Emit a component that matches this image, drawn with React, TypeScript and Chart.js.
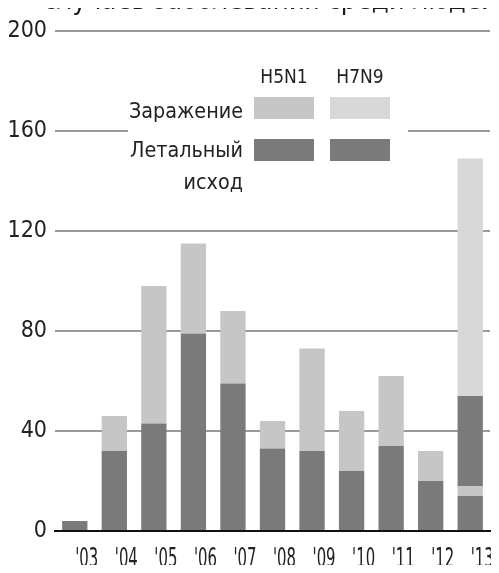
import React, { useEffect, useRef } from "react";
import { Chart, registerables } from "chart.js";

Chart.register(...registerables);

const years = ["'03", "'04", "'05", "'06", "'07", "'08", "'09", "'10", "'11", "'12", "'13"];
const h5n1Fatal = [4, 32, 43, 79, 59, 33, 32, 24, 34, 20, 14];
const h5n1Infected = [4, 46, 98, 115, 88, 44, 73, 48, 62, 32, 18];
const h7n9Fatal = [0, 0, 0, 0, 0, 0, 0, 0, 0, 0, 36];
const h7n9Infected = [0, 0, 0, 0, 0, 0, 0, 0, 0, 0, 131];
const yTicks = [0, 40, 80, 120, 160, 200];

const titleText = "случаев заболевания среди людей";
const legendHeaders = ["H5N1", "H7N9"];
const legendRowInfected = "Заражение";
const legendRowFatal = ["Летальный", "исход"];

const DARK = "#7a7a7a";
const LIGHT1 = "#c6c6c6";
const LIGHT2 = "#d8d8d8";
const FONT = "'DejaVu Sans Condensed', 'Liberation Sans Narrow', 'Liberation Sans', sans-serif";

function condensedText(ctx: any, text: string, x: number, y: number, size: number, align: string, scaleX: number) {
  ctx.save();
  ctx.font = `${size}px ${FONT}`;
  ctx.textAlign = align;
  ctx.translate(x, y);
  ctx.scale(scaleX, 1);
  ctx.fillText(text, 0, 0);
  ctx.restore();
}

const overlayPlugin = {
  id: "overlay",
  afterDraw(chart: any) {
    const ctx = chart.ctx;
    ctx.save();
    // title (cropped at the top of the picture)
    ctx.fillStyle = "#1a1a1a";
    ctx.font = `27px ${FONT}`;
    const tw = ctx.measureText(titleText).width;
    ctx.textBaseline = "alphabetic";
    condensedText(ctx, titleText, 43, 8.5, 27, "left", 454 / tw);

    // x-axis category labels (condensed), placed from the category scale
    const xs = chart.scales.x;
    ctx.fillStyle = "#222";
    ctx.font = `26px ${FONT}`;
    const xw = ctx.measureText(years[0]).width;
    const xsx = 23 / xw;
    (chart.data.labels as string[]).forEach((lab: string, i: number) => {
      const px = xs.getPixelForTick(i) + 12;
      condensedText(ctx, lab, px, 567, 26, "center", xsx);
    });

    // legend box
    ctx.fillStyle = "#ffffff";
    ctx.fillRect(128, 58, 280, 150);
    ctx.fillStyle = "#222";
    ctx.textBaseline = "middle";
    condensedText(ctx, legendHeaders[0], 284, 78, 19, "center", 1);
    condensedText(ctx, legendHeaders[1], 360, 78, 19, "center", 1);

    ctx.fillStyle = LIGHT1;
    ctx.fillRect(254, 97, 60, 22);
    ctx.fillStyle = LIGHT2;
    ctx.fillRect(330, 97, 60, 22);
    ctx.fillStyle = DARK;
    ctx.fillRect(254, 139, 60, 22);
    ctx.fillRect(330, 139, 60, 22);

    ctx.fillStyle = "#222";
    ctx.font = `22px ${FONT}`;
    const lw = ctx.measureText(legendRowInfected).width;
    const sx = 114 / lw;
    ctx.textBaseline = "alphabetic";
    condensedText(ctx, legendRowInfected, 243, 118, 22, "right", sx);
    condensedText(ctx, legendRowFatal[0], 243, 157, 22, "right", sx);
    condensedText(ctx, legendRowFatal[1], 243, 189, 22, "right", sx);
    ctx.restore();
  },
};

export default function App() {
  const ref = useRef<HTMLCanvasElement | null>(null);
  useEffect(() => {
    if (!ref.current) return;
    const chart = new Chart(ref.current, {
      type: "bar",
      data: {
        labels: years,
        datasets: [
          { label: "H5N1 летальный исход", data: h5n1Fatal, backgroundColor: DARK },
          {
            label: "H5N1 заражение",
            data: h5n1Infected.map((v, i) => v - h5n1Fatal[i]),
            backgroundColor: LIGHT1,
          },
          { label: "H7N9 летальный исход", data: h7n9Fatal, backgroundColor: DARK },
          {
            label: "H7N9 заражение",
            data: h7n9Infected.map((v, i) => v - h7n9Fatal[i]),
            backgroundColor: LIGHT2,
          },
        ],
      },
      options: {
        animation: false,
        responsive: false,
        layout: { padding: { top: 31, right: 9, left: 0, bottom: 0 } },
        datasets: { bar: { barPercentage: 0.64, categoryPercentage: 1, borderWidth: 0 } },
        plugins: { legend: { display: false }, tooltip: { enabled: false }, title: { display: false } },
        scales: {
          x: {
            stacked: true,
            grid: { display: false, drawTicks: false },
            border: { display: true, color: "#111", width: 2 },
            ticks: { display: false, autoSkip: false },
            afterFit: (s: any) => { s.height = 42; },
          },
          y: {
            stacked: true,
            min: 0,
            max: 200,
            afterBuildTicks: (s: any) => { s.ticks = yTicks.map((v) => ({ value: v })); },
            grid: { color: "#9a9a9a", lineWidth: 2, drawTicks: false },
            border: { display: false },
            ticks: { font: { family: FONT, size: 23 }, color: "#222", padding: 8 },
            afterFit: (s: any) => { s.width = 55; },
          },
        },
      },
      plugins: [overlayPlugin],
    });
    return () => chart.destroy();
  }, []);
  return (
    <div style={{ margin: "-8px", width: 499, height: 573 }}>
      <canvas ref={ref} width={499} height={573} style={{ display: "block" }} />
    </div>
  );
}
